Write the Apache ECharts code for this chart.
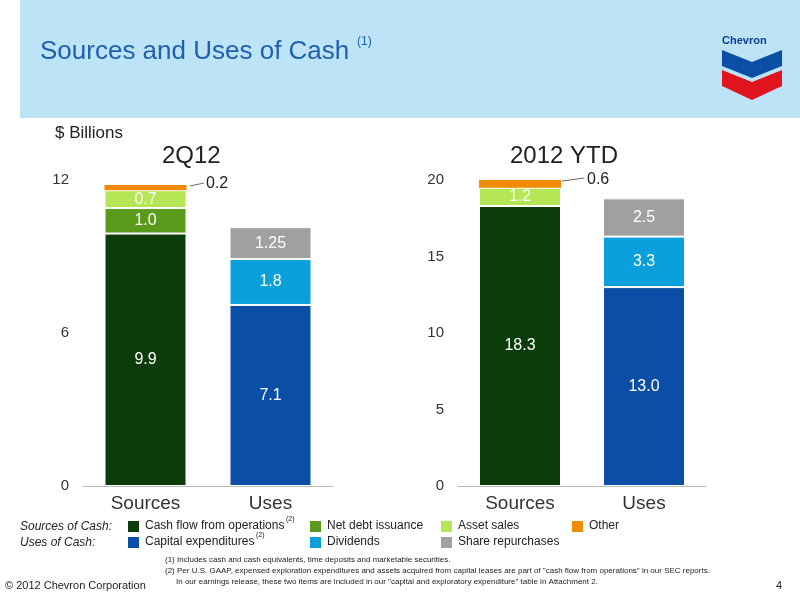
<!DOCTYPE html>
<html><head><meta charset="utf-8">
<script src="https://cdn.jsdelivr.net/npm/echarts@6/dist/echarts.min.js"></script>
<style>html,body{margin:0;padding:0;background:#fff}#c{width:800px;height:600px}</style>
</head><body><div id="c"></div>
<script>
const categories = ['Sources', 'Uses'];
const seriesNames = ['Cash flow from operations','Net debt issuance','Asset sales','Other','Capital expenditures','Dividends','Share repurchases'];
const colors = ['#0b3d0b','#5a9a1a','#b5e655','#f08a00','#0a4fa5','#0aa0dc','#a0a0a0'];
// values per series: [Sources, Uses]
const q2Values = [[9.9,null],[1.0,null],[0.7,null],[0.2,null],[null,7.1],[null,1.8],[null,1.25]];
const ytdValues = [[18.3,null],[0,null],[1.2,null],[0.6,null],[null,13.0],[null,3.3],[null,2.5]];
const q2Ticks = {min:0,max:12,interval:6};
const ytdTicks = {min:0,max:20,interval:5};
const labelColors = ['#fff','#fff','#fff',null,'#fff','#fff','#fff'];

const chart = echarts.init(document.getElementById('c'));
function mkSeries(vals, idx){
  return vals.map((v,i)=>({
    type:'bar', name:seriesNames[i], stack:'s'+idx, xAxisIndex:idx, yAxisIndex:idx,
    barWidth:82, data:v, itemStyle:{color:colors[i],borderColor:'#fff',borderWidth:i===3?0:1},
    label:{show:labelColors[i]!==null, color:labelColors[i], fontSize:16, fontFamily:'Liberation Sans',
      formatter:p=>(p.value? (i===6&&idx===0?'1.25':p.value.toFixed(1)) : '')}
  }));
}
const axisLabelX = {color:'#333',fontSize:19,fontFamily:'Liberation Sans',margin:8};
const axisLabelY = {color:'#333',fontSize:15,fontFamily:'Liberation Sans',margin:14};
chart.setOption({
  animation:false,
  grid:[{left:83,right:467,top:180,bottom:114},{left:458,right:94,top:180,bottom:114}],
  xAxis:[0,1].map(g=>({gridIndex:g,type:'category',data:categories,axisTick:{show:false},
    axisLine:{lineStyle:{color:'#bbb'}},axisLabel:axisLabelX})),
  yAxis:[q2Ticks,ytdTicks].map((t,g)=>({gridIndex:g,type:'value',min:t.min,max:t.max,interval:t.interval,
    splitLine:{show:false},axisLine:{show:false},axisTick:{show:false},axisLabel:axisLabelY})),
  series:[...mkSeries(q2Values,0),...mkSeries(ytdValues,1)],
  graphic:[
    {type:'rect',shape:{x:20,y:0,width:780,height:118},style:{fill:'#bde3f7'}},
    {type:'text',left:40,top:39,style:{text:'Sources and Uses of Cash',fill:'#1f5fb0',font:'26px Liberation Sans'}},
    {type:'text',left:357,top:36,style:{text:'(1)',fill:'#1f5fb0',font:'12px Liberation Sans'}},
    // logo
    {type:'text',left:722,top:35,style:{text:'Chevron',fill:'#0a3d8f',font:'bold 11px Liberation Sans'}},
    {type:'polygon',shape:{points:[[722,50],[752,62],[782,50],[782,66],[752,78],[722,66]]},style:{fill:'#0a4fa5'}},
    {type:'polygon',shape:{points:[[722,70],[752,82],[782,70],[782,86],[752,100],[722,86]]},style:{fill:'#e0141e'}},
    {type:'text',left:55,top:125,style:{text:'$ Billions',fill:'#222',font:'17px Liberation Sans'}},
    {type:'text',left:162,top:144,style:{text:'2Q12',fill:'#222',font:'24px Liberation Sans'}},
    {type:'text',left:510,top:144,style:{text:'2012 YTD',fill:'#222',font:'24px Liberation Sans'}},
    {type:'text',left:206,top:176,style:{text:'0.2',fill:'#222',font:'16px Liberation Sans'}},
    {type:'line',shape:{x1:190,y1:186,x2:204,y2:183},style:{stroke:'#666'}},
    {type:'text',left:587,top:172,style:{text:'0.6',fill:'#222',font:'16px Liberation Sans'}},
    {type:'line',shape:{x1:562,y1:181,x2:584,y2:178},style:{stroke:'#666'}},
    // legend
    {type:'text',left:20,top:521,style:{text:'Sources of Cash:',fill:'#222',font:'italic 12px Liberation Sans'}},
    {type:'text',left:20,top:537,style:{text:'Uses of Cash:',fill:'#222',font:'italic 12px Liberation Sans'}},
    ...[[0,128,521,'Cash flow from operations'],[1,310,521,'Net debt issuance'],[2,441,521,'Asset sales'],[3,572,521,'Other'],
        [4,128,537,'Capital expenditures'],[5,310,537,'Dividends'],[6,441,537,'Share repurchases']].flatMap(([c,x,y,t])=>[
      {type:'rect',shape:{x:x,y:y,width:11,height:11},style:{fill:colors[c]}},
      {type:'text',left:x+17,top:y-1,style:{text:t,fill:'#222',font:'12px Liberation Sans'}}]),
    {type:'text',left:286,top:516,style:{text:'(2)',fill:'#222',font:'7px Liberation Sans'}},
    {type:'text',left:256,top:532,style:{text:'(2)',fill:'#222',font:'7px Liberation Sans'}},
    {type:'text',left:165,top:556,style:{text:'(1) Includes cash and cash equivalents, time deposits and marketable securities.',fill:'#222',font:'8px Liberation Sans'}},
    {type:'text',left:165,top:567,style:{text:'(2) Per U.S. GAAP, expensed exploration expenditures and assets acquired from capital leases are part of "cash flow from operations" in our SEC reports.',fill:'#222',font:'8px Liberation Sans'}},
    {type:'text',left:176,top:578,style:{text:'In our earnings release, these two items are included in our "capital and exploratory expenditure" table in Attachment 2.',fill:'#222',font:'8px Liberation Sans'}},
    {type:'text',left:5,top:580,style:{text:'© 2012 Chevron Corporation',fill:'#222',font:'11px Liberation Sans'}},
    {type:'text',left:776,top:580,style:{text:'4',fill:'#222',font:'11px Liberation Sans'}}
  ]
});
</script></body></html>
